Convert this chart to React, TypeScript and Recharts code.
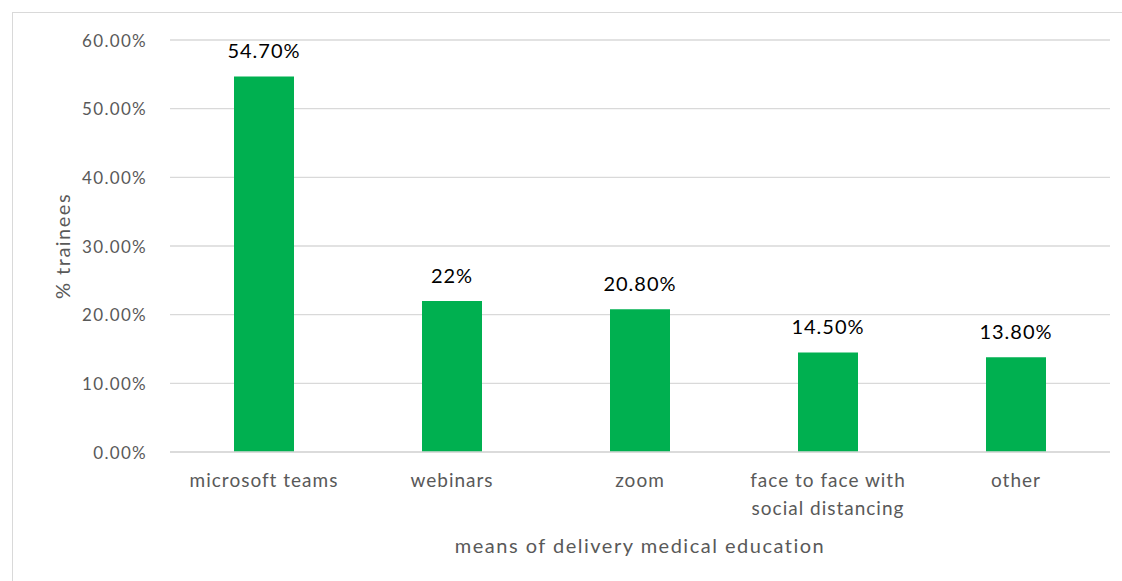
import React from 'react';
import { BarChart, Bar, XAxis, YAxis, CartesianGrid, LabelList, Label } from 'recharts';

const categories = ['microsoft teams', 'webinars', 'zoom', 'face to face with social distancing', 'other'];
const values = [54.7, 22, 20.8, 14.5, 13.8];
const valueLabels = ['54.70%', '22%', '20.80%', '14.50%', '13.80%'];
const yTicks = [0, 10, 20, 30, 40, 50, 60];

const data = categories.map((c, i) => ({ name: c, value: values[i], label: valueLabels[i] }));

const FONT = 'Lato, "Open Sans", sans-serif';
const GREY = '#595959';

const wrap = (s: string, max: number) => {
  const words = s.split(' ');
  const lines: string[] = [];
  let cur = '';
  words.forEach((w) => {
    const t = cur ? cur + ' ' + w : w;
    if (t.length > max && cur) {
      lines.push(cur);
      cur = w;
    } else cur = t;
  });
  if (cur) lines.push(cur);
  return lines;
};

const XTick = (props: any) => {
  const { x, y, payload } = props;
  const lines = wrap(payload.value, 18);
  return (
    <text x={x} y={y} textAnchor="middle" fill={GREY} fontSize={19} letterSpacing={1} fontFamily={FONT}>
      {lines.map((l, i) => (
        <tspan key={i} x={x} dy={i === 0 ? '0.71em' : 28}>
          {l}
        </tspan>
      ))}
    </text>
  );
};

const YTick = (props: any) => {
  const { x, y, payload } = props;
  return (
    <text
      x={x}
      y={y}
      textAnchor="end"
      dominantBaseline="central"
      fill={GREY}
      fontSize={17}
      letterSpacing={1.3}
      fontFamily={FONT}
    >
      {`${Number(payload.value).toFixed(2)}%`}
    </text>
  );
};

const ValueLabel = (props: any) => {
  const { x, y, width, value } = props;
  return (
    <text
      x={Number(x) + Number(width) / 2}
      y={Number(y) - 18}
      textAnchor="middle"
      fill="#000"
      fontSize={20}
      letterSpacing={1}
      fontFamily={FONT}
    >
      {value}
    </text>
  );
};

export default function App() {
  return (
    <div
      style={{
        position: 'absolute',
        left: 12,
        top: 12,
        width: 1110,
        height: 569,
        borderLeft: '1px solid #d9d9d9',
        borderTop: '1px solid #d9d9d9',
        boxSizing: 'border-box',
        background: '#fff',
      }}
    >
      <BarChart
        width={1110}
        height={569}
        data={data}
        margin={{ top: 28, right: 12, bottom: 29, left: 58 }}
        style={{ position: 'absolute', left: -1, top: -1 }}
      >
        <CartesianGrid vertical={false} stroke="#d9d9d9" strokeWidth={1.3} />
        <XAxis
          dataKey="name"
          height={100}
          axisLine={{ stroke: '#d9d9d9', strokeWidth: 1.3 }}
          tickLine={false}
          tickSize={0}
          tickMargin={22}
          interval={0}
          tick={<XTick />}
        >
          <Label
            content={({ viewBox }: any) => (
              <text
                x={viewBox.x + viewBox.width / 2}
                y={viewBox.y + 93}
                textAnchor="middle"
                dominantBaseline="central"
                fill={GREY}
                fontSize={20}
                letterSpacing={1.5}
                fontFamily={FONT}
              >
                means of delivery medical education
              </text>
            )}
          />
        </XAxis>
        <YAxis
          width={100}
          domain={[0, 60]}
          ticks={yTicks}
          axisLine={false}
          tickLine={false}
          tickSize={0}
          tickMargin={23}
          tick={<YTick />}
        >
          <Label
            content={({ viewBox }: any) => {
              const cx = viewBox.x - 8;
              const cy = viewBox.y + viewBox.height / 2;
              return (
                <text
                  x={cx}
                  y={cy}
                  transform={`rotate(-90 ${cx} ${cy})`}
                  textAnchor="middle"
                  dominantBaseline="central"
                  fill={GREY}
                  fontSize={20}
                  letterSpacing={1.5}
                  fontFamily={FONT}
                >
                  % trainees
                </text>
              );
            }}
          />
        </YAxis>
        <Bar dataKey="value" fill="#00B050" barSize={60} isAnimationActive={false}>
          <LabelList dataKey="label" content={<ValueLabel />} />
        </Bar>
      </BarChart>
    </div>
  );
}
